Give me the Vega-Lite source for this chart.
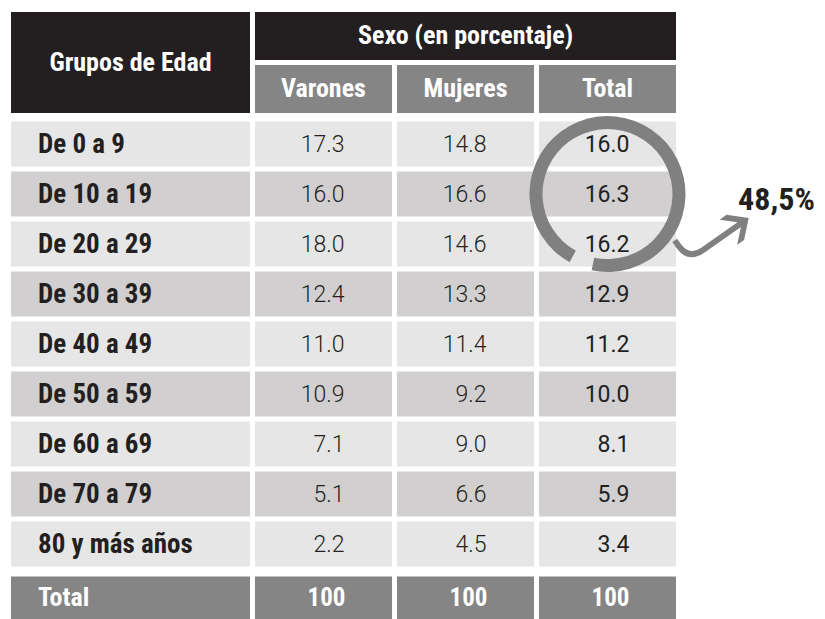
{
  "$schema": "https://vega.github.io/schema/vega-lite/v6.json",
  "padding": {"left": 11, "top": 12, "right": 0, "bottom": 0},
  "background": "white",
  "config": {"view": {"stroke": null}},
  "spacing": 2.5,
  "datasets": {
    "tabla": [
      {"grupo": "De 0 a 9", "Varones": 17.3, "Mujeres": 14.8, "Total": 16.0},
      {"grupo": "De 10 a 19", "Varones": 16.0, "Mujeres": 16.6, "Total": 16.3},
      {"grupo": "De 20 a 29", "Varones": 18.0, "Mujeres": 14.6, "Total": 16.2},
      {"grupo": "De 30 a 39", "Varones": 12.4, "Mujeres": 13.3, "Total": 12.9},
      {"grupo": "De 40 a 49", "Varones": 11.0, "Mujeres": 11.4, "Total": 11.2},
      {"grupo": "De 50 a 59", "Varones": 10.9, "Mujeres": 9.2, "Total": 10.0},
      {"grupo": "De 60 a 69", "Varones": 7.1, "Mujeres": 9.0, "Total": 8.1},
      {"grupo": "De 70 a 79", "Varones": 5.1, "Mujeres": 6.6, "Total": 5.9},
      {"grupo": "80 y más años", "Varones": 2.2, "Mujeres": 4.5, "Total": 3.4}
    ],
    "encabezado": [
      {"nivel": "1", "texto": "Sexo (en porcentaje)"},
      {"nivel": "2", "texto": "Varones"},
      {"nivel": "2", "texto": "Mujeres"},
      {"nivel": "2", "texto": "Total"}
    ],
    "totales": [{"grupo": "Total", "Varones": 100, "Mujeres": 100, "Total": 100}],
    "anotacion": [{"col": "Total", "grupo": "De 10 a 19", "etiqueta": "48,5%", "flecha": "⤴"}]
  },
  "vconcat": [
    {
      "bounds": "flush",
      "spacing": 5,
      "hconcat": [
        {
          "width": 239,
          "height": 101,
          "data": {"values": [{"texto": "Grupos de Edad"}]},
          "encoding": {
            "x": {"field": "texto", "type": "nominal", "axis": null, "scale": {"paddingInner": 0, "paddingOuter": 0}},
            "y": {"field": "texto", "type": "nominal", "axis": null, "scale": {"paddingInner": 0, "paddingOuter": 0}}
          },
          "layer": [
            {"mark": {"type": "rect", "color": "#231f20"}},
            {"mark": {"type": "text", "color": "white", "font": "Roboto Condensed, Roboto", "fontWeight": "bold", "fontSize": 26, "baseline": "middle"},
             "encoding": {"text": {"field": "texto"}}}
          ]
        },
        {
          "width": 421,
          "height": 101,
          "data": {"name": "encabezado"},
          "layer": [
            {"transform": [{"filter": "datum.nivel == '1'"}],
             "mark": {"type": "rect", "color": "#231f20"},
             "encoding": {"y": {"field": "nivel", "type": "nominal", "axis": null, "scale": {"domain": ["1", "2"], "paddingInner": 0.094, "paddingOuter": 0}}}},
            {"transform": [{"filter": "datum.nivel == '1'"}],
             "mark": {"type": "text", "color": "white", "font": "Roboto Condensed, Roboto", "fontWeight": "bold", "fontSize": 26, "baseline": "middle"},
             "encoding": {"y": {"field": "nivel", "type": "nominal", "axis": null}, "text": {"field": "texto"}}},
            {"transform": [{"filter": "datum.nivel == '2'"}],
             "mark": {"type": "rect", "color": "#858585"},
             "encoding": {
               "y": {"field": "nivel", "type": "nominal", "axis": null},
               "x": {"field": "texto", "type": "nominal", "axis": null, "sort": null, "scale": {"domain": ["Varones", "Mujeres", "Total"], "paddingInner": 0.0352, "paddingOuter": 0}}}},
            {"transform": [{"filter": "datum.nivel == '2'"}],
             "mark": {"type": "text", "color": "white", "font": "Roboto Condensed, Roboto", "fontWeight": "bold", "fontSize": 26, "baseline": "middle"},
             "encoding": {
               "y": {"field": "nivel", "type": "nominal", "axis": null},
               "x": {"field": "texto", "type": "nominal", "axis": null, "sort": null},
               "text": {"field": "texto"}}}
          ]
        }
      ]
    },
    {
      "spacing": 10,
      "vconcat": [
        {
          "bounds": "flush",
          "spacing": 5,
          "hconcat": [
            {
              "width": 239,
              "height": 445,
              "data": {"name": "tabla"},
              "encoding": {
                "y": {"field": "grupo", "type": "nominal", "axis": null, "sort": null,
                      "scale": {"domain": ["De 0 a 9", "De 10 a 19", "De 20 a 29", "De 30 a 39", "De 40 a 49", "De 50 a 59", "De 60 a 69", "De 70 a 79", "80 y más años"], "paddingInner": 0.1, "paddingOuter": 0}},
                "x": {"datum": "Grupos de Edad", "type": "nominal", "axis": null, "scale": {"paddingInner": 0, "paddingOuter": 0}}
              },
              "layer": [
                {"mark": {"type": "rect"},
                 "encoding": {"color": {"field": "grupo", "type": "nominal", "legend": null,
                   "scale": {"domain": ["De 0 a 9", "De 10 a 19", "De 20 a 29", "De 30 a 39", "De 40 a 49", "De 50 a 59", "De 60 a 69", "De 70 a 79", "80 y más años"],
                             "range": ["#e6e6e6", "#d1cfd0", "#e6e6e6", "#d1cfd0", "#e6e6e6", "#d1cfd0", "#e6e6e6", "#d1cfd0", "#e6e6e6"]}}}},
                {"mark": {"type": "text", "align": "left", "baseline": "middle", "dx": 27, "dy": 1, "color": "#231f20", "font": "Roboto Condensed, Roboto", "fontWeight": "bold", "fontSize": 27},
                 "encoding": {"x": {"datum": "Grupos de Edad", "type": "nominal", "bandPosition": 0}, "text": {"field": "grupo"}}}
              ]
            },
            {
              "width": 421,
              "height": 445,
              "layer": [
                {
                  "data": {"name": "tabla"},
                  "transform": [{"fold": ["Varones", "Mujeres", "Total"], "as": ["col", "valor"]}],
                  "encoding": {
                    "x": {"field": "col", "type": "nominal", "axis": null, "sort": null, "scale": {"domain": ["Varones", "Mujeres", "Total"], "paddingInner": 0.0352, "paddingOuter": 0}},
                    "y": {"field": "grupo", "type": "nominal", "axis": null, "sort": null,
                          "scale": {"domain": ["De 0 a 9", "De 10 a 19", "De 20 a 29", "De 30 a 39", "De 40 a 49", "De 50 a 59", "De 60 a 69", "De 70 a 79", "80 y más años"], "paddingInner": 0.1, "paddingOuter": 0}}
                  },
                  "layer": [
                    {"mark": {"type": "rect"},
                     "encoding": {"color": {"field": "grupo", "type": "nominal", "legend": null,
                       "scale": {"domain": ["De 0 a 9", "De 10 a 19", "De 20 a 29", "De 30 a 39", "De 40 a 49", "De 50 a 59", "De 60 a 69", "De 70 a 79", "80 y más años"],
                                 "range": ["#e6e6e6", "#d1cfd0", "#e6e6e6", "#d1cfd0", "#e6e6e6", "#d1cfd0", "#e6e6e6", "#d1cfd0", "#e6e6e6"]}}}},
                    {"transform": [{"filter": "datum.col != 'Total'"}],
                     "mark": {"type": "text", "align": "right", "baseline": "middle", "dx": 21, "dy": 1, "color": "#231f20", "font": "Roboto", "fontWeight": 300, "fontSize": 23},
                     "encoding": {"text": {"field": "valor", "type": "quantitative", "format": ".1f"}}},
                    {"transform": [{"filter": "datum.col == 'Total'"}],
                     "mark": {"type": "text", "align": "right", "baseline": "middle", "dx": 22, "dy": 1, "color": "#231f20", "font": "Roboto", "fontWeight": 400, "fontSize": 23},
                     "encoding": {"text": {"field": "valor", "type": "quantitative", "format": ".1f"}}}
                  ]
                },
                {
                  "data": {"name": "anotacion"},
                  "encoding": {
                    "x": {"field": "col", "type": "nominal", "axis": null},
                    "y": {"field": "grupo", "type": "nominal", "axis": null}
                  },
                  "layer": [
                    {"mark": {"type": "arc", "radius": 78, "radius2": 65, "theta": 3.65, "theta2": 9.63, "color": "#808080"}},
                    {"mark": {"type": "text", "align": "center", "baseline": "middle", "angle": 55, "dx": 97, "dy": -54, "fontSize": 100, "font": "DejaVu Sans", "color": "#808080"},
                     "encoding": {"text": {"field": "flecha"}}},
                    {"mark": {"type": "text", "align": "center", "baseline": "middle", "dx": 169, "dy": 6, "fontSize": 32, "fontWeight": "bold", "font": "Roboto Condensed, Roboto", "color": "#231f20"},
                     "encoding": {"text": {"field": "etiqueta"}}}
                  ]
                }
              ]
            }
          ]
        },
        {
          "bounds": "flush",
          "spacing": 5,
          "hconcat": [
            {
              "width": 239,
              "height": 43,
              "data": {"name": "totales"},
              "encoding": {
                "y": {"field": "grupo", "type": "nominal", "axis": null, "scale": {"paddingInner": 0, "paddingOuter": 0}},
                "x": {"datum": "Total", "type": "nominal", "axis": null, "scale": {"paddingInner": 0, "paddingOuter": 0}}
              },
              "layer": [
                {"mark": {"type": "rect", "color": "#858585"}},
                {"mark": {"type": "text", "align": "left", "baseline": "middle", "dx": 27, "color": "white", "font": "Roboto Condensed, Roboto", "fontWeight": "bold", "fontSize": 26},
                 "encoding": {"x": {"datum": "Total", "type": "nominal", "bandPosition": 0}, "text": {"field": "grupo"}}}
              ]
            },
            {
              "width": 421,
              "height": 43,
              "data": {"name": "totales"},
              "transform": [{"fold": ["Varones", "Mujeres", "Total"], "as": ["col", "valor"]}],
              "encoding": {
                "x": {"field": "col", "type": "nominal", "axis": null, "sort": null, "scale": {"domain": ["Varones", "Mujeres", "Total"], "paddingInner": 0.0352, "paddingOuter": 0}},
                "y": {"field": "grupo", "type": "nominal", "axis": null, "scale": {"paddingInner": 0, "paddingOuter": 0}}
              },
              "layer": [
                {"mark": {"type": "rect", "color": "#858585"}},
                {"mark": {"type": "text", "align": "right", "baseline": "middle", "dx": 22, "color": "white", "font": "Roboto Condensed, Roboto", "fontWeight": "bold", "fontSize": 25},
                 "encoding": {"text": {"field": "valor", "type": "quantitative", "format": "d"}}}
              ]
            }
          ]
        }
      ]
    }
  ]
}
